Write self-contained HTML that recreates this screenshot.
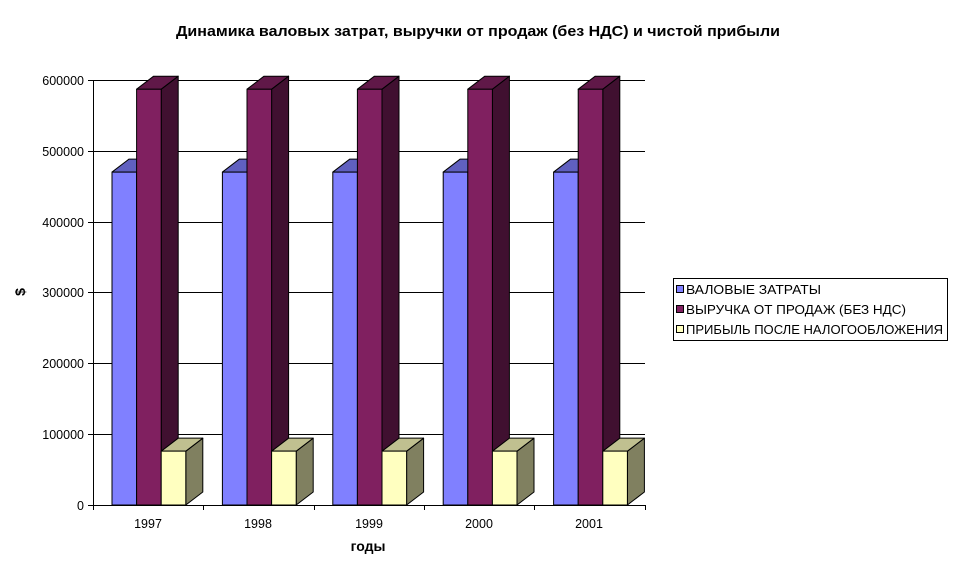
<!DOCTYPE html>
<html><head><meta charset="utf-8"><style>
body{margin:0;background:#fff;}
svg{display:block;font-family:"Liberation Sans","DejaVu Sans",sans-serif;}
</style></head><body>
<svg id="s" width="956" height="575" viewBox="0 0 956 575">
<text x="478" y="36" text-anchor="middle" font-size="15" font-weight="bold" textLength="604" lengthAdjust="spacingAndGlyphs">Динамика валовых затрат, выручки от продаж (без НДС) и чистой прибыли</text>
<g stroke="#000" stroke-width="1">
<line x1="93" y1="80.5" x2="645" y2="80.5"/>
<line x1="93" y1="151.5" x2="645" y2="151.5"/>
<line x1="93" y1="222.5" x2="645" y2="222.5"/>
<line x1="93" y1="292.5" x2="645" y2="292.5"/>
<line x1="93" y1="363.5" x2="645" y2="363.5"/>
<line x1="93" y1="434.5" x2="645" y2="434.5"/>
<line x1="88" y1="505.5" x2="645" y2="505.5"/>
<line x1="93.5" y1="80" x2="93.5" y2="510"/>
<line x1="88" y1="80.5" x2="93" y2="80.5"/>
<line x1="88" y1="151.5" x2="93" y2="151.5"/>
<line x1="88" y1="222.5" x2="93" y2="222.5"/>
<line x1="88" y1="292.5" x2="93" y2="292.5"/>
<line x1="88" y1="363.5" x2="93" y2="363.5"/>
<line x1="88" y1="434.5" x2="93" y2="434.5"/>
<line x1="203.5" y1="505" x2="203.5" y2="510"/>
<line x1="314.5" y1="505" x2="314.5" y2="510"/>
<line x1="424.5" y1="505" x2="424.5" y2="510"/>
<line x1="534.5" y1="505" x2="534.5" y2="510"/>
<line x1="645.5" y1="505" x2="645.5" y2="510"/>
</g>
<g font-size="12.5" text-anchor="end">
<text x="84" y="85">600000</text><text x="84" y="156">500000</text><text x="84" y="227">400000</text>
<text x="84" y="297">300000</text><text x="84" y="368">200000</text><text x="84" y="439">100000</text><text x="84" y="510">0</text>
</g>
<g font-size="12.5" text-anchor="middle">
<text x="148" y="528">1997</text><text x="258" y="528">1998</text><text x="369" y="528">1999</text><text x="479" y="528">2000</text><text x="589" y="528">2001</text>
</g>
<text x="368" y="551" text-anchor="middle" font-size="14" font-weight="bold">годы</text>
<text x="25" y="292" text-anchor="middle" font-size="14" font-weight="bold" transform="rotate(-90 25 292)">$</text>
<g id="bars" stroke="#000" stroke-width="1" stroke-linejoin="round"></g>
<rect x="673.5" y="278.5" width="274" height="62" fill="#fff" stroke="#000"/>
<rect x="676.5" y="285.5" width="7" height="7" fill="#8080ff" stroke="#000"/>
<rect x="676.5" y="305.5" width="7" height="7" fill="#802060" stroke="#000"/>
<rect x="676.5" y="325.5" width="7" height="7" fill="#ffffc0" stroke="#000"/>
<g font-size="13">
<text x="686" y="294" textLength="135" lengthAdjust="spacingAndGlyphs">ВАЛОВЫЕ ЗАТРАТЫ</text>
<text x="686" y="314" textLength="220" lengthAdjust="spacingAndGlyphs">ВЫРУЧКА ОТ ПРОДАЖ (БЕЗ НДС)</text>
<text x="686" y="334" textLength="257" lengthAdjust="spacingAndGlyphs">ПРИБЫЛЬ ПОСЛЕ НАЛОГООБЛОЖЕНИЯ</text>
</g>
</svg>
<script>
var g=document.getElementById('bars'),h='';
var dx=17,dy=-13,B=505;
var ser=[[470000,'#8080ff','#6060c0','#404080'],[587000,'#802060','#601848','#401030'],[76000,'#ffffc0','#c0c090','#808060']];
for(var c=0;c<5;c++){var x0=112+c*110.4;
for(var s=0;s<3;s++){var x=x0+s*24.6,w=24.6,t=B-ser[s][0]/600000*425;
h+='<polygon points="'+(x+w)+','+t+' '+(x+w+dx)+','+(t+dy)+' '+(x+w+dx)+','+(B+dy)+' '+(x+w)+','+B+'" fill="'+ser[s][3]+'"/>';
h+='<polygon points="'+x+','+t+' '+(x+dx)+','+(t+dy)+' '+(x+w+dx)+','+(t+dy)+' '+(x+w)+','+t+'" fill="'+ser[s][2]+'"/>';
h+='<rect x="'+x+'" y="'+t+'" width="'+w+'" height="'+(B-t)+'" fill="'+ser[s][1]+'"/>';}}
g.innerHTML=h;
</script>
</body></html>
